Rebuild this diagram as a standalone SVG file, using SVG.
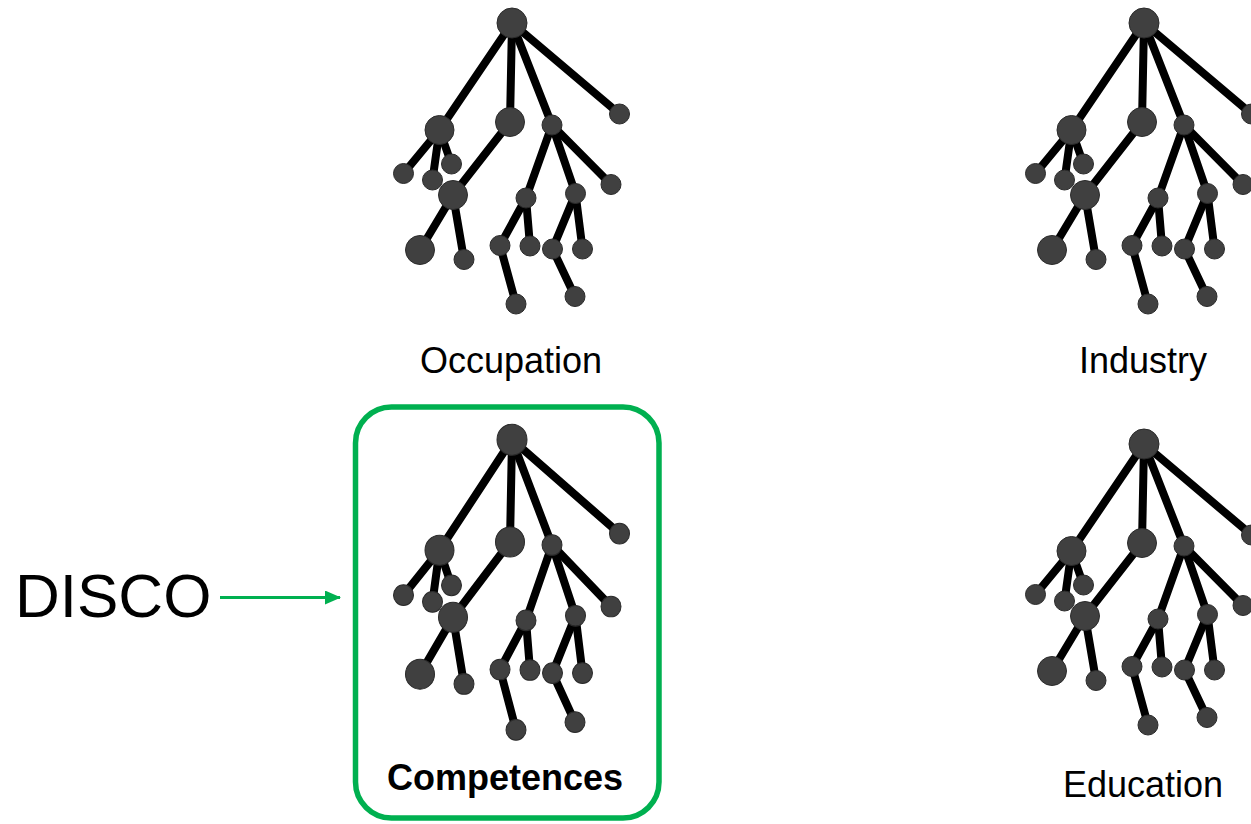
<svg xmlns="http://www.w3.org/2000/svg" xmlns:xlink="http://www.w3.org/1999/xlink" width="1251" height="824" viewBox="0 0 1251 824">
<style>
.e{stroke:#000;stroke-width:8;stroke-linecap:round;fill:none}
.n{fill:#404040;stroke:#2b2b2b;stroke-width:1}
.lbl{font-family:"Liberation Sans",Arial,sans-serif;font-size:36px;fill:#000;text-anchor:middle}
.bold{font-weight:bold}
.conn{stroke:#00b050;stroke-width:3;fill:none}
</style>
<defs>
<marker id="ah" viewBox="0 0 16 14" refX="15" refY="7" markerWidth="16" markerHeight="14" markerUnits="userSpaceOnUse" orient="auto">
<path d="M0,0 L16,7 L0,14 z" fill="#00b050"/>
</marker>
<g id="tree">
<g class="e">
<line x1="512" y1="23" x2="439.5" y2="130"/>
<line x1="512" y1="23" x2="510" y2="122"/>
<line x1="512" y1="23" x2="552" y2="125"/>
<line x1="512" y1="23" x2="619.5" y2="114"/>
<line x1="439.5" y1="130" x2="403.5" y2="173.5"/>
<line x1="439.5" y1="130" x2="432.5" y2="180"/>
<line x1="439.5" y1="130" x2="451.5" y2="164"/>
<line x1="510" y1="122" x2="453" y2="195"/>
<line x1="453" y1="195" x2="420" y2="250"/>
<line x1="453" y1="195" x2="464" y2="259.5"/>
<line x1="552" y1="125" x2="526" y2="198"/>
<line x1="552" y1="125" x2="575.5" y2="193.5"/>
<line x1="552" y1="125" x2="611" y2="184.5"/>
<line x1="526" y1="198" x2="500" y2="245.5"/>
<line x1="526" y1="198" x2="530" y2="246"/>
<line x1="500" y1="245.5" x2="516" y2="304"/>
<line x1="575.5" y1="193.5" x2="552.5" y2="249"/>
<line x1="575.5" y1="193.5" x2="582.5" y2="249"/>
<line x1="552.5" y1="249" x2="575" y2="296.5"/>
</g>
<g class="n">
<circle cx="512" cy="23" r="15"/>
<circle cx="439.5" cy="130" r="14.5"/>
<circle cx="510" cy="122" r="14.5"/>
<circle cx="552" cy="125" r="10"/>
<circle cx="619.5" cy="114" r="10"/>
<circle cx="403.5" cy="173.5" r="10"/>
<circle cx="432.5" cy="180" r="10"/>
<circle cx="451.5" cy="164" r="10"/>
<circle cx="453" cy="195" r="14.5"/>
<circle cx="420" cy="250" r="14.5"/>
<circle cx="464" cy="259.5" r="10"/>
<circle cx="526" cy="198" r="10"/>
<circle cx="575.5" cy="193.5" r="10"/>
<circle cx="611" cy="184.5" r="10"/>
<circle cx="500" cy="245.5" r="10"/>
<circle cx="530" cy="246" r="10"/>
<circle cx="516" cy="304" r="10"/>
<circle cx="552.5" cy="249" r="10"/>
<circle cx="582.5" cy="249" r="10"/>
<circle cx="575" cy="296.5" r="10"/>
</g>
</g>
</defs>
<rect width="1251" height="824" fill="#fff"/>
<g id="occupation">
<use xlink:href="#tree" href="#tree"/>
<text class="lbl" x="511" y="373">Occupation</text>
</g>
<g id="industry">
<use xlink:href="#tree" href="#tree" transform="translate(632,0)"/>
<text class="lbl" x="1143" y="373">Industry</text>
</g>
<g id="competences">
<rect x="355.5" y="407" width="303.5" height="411" rx="36" ry="36" fill="none" stroke="#00b050" stroke-width="5.5"/>
<use xlink:href="#tree" href="#tree" transform="matrix(1,0,0,1.033,0,415.9)"/>
<text class="lbl bold" x="505" y="790">Competences</text>
</g>
<g id="education">
<use xlink:href="#tree" href="#tree" transform="translate(632,421)"/>
<text class="lbl" x="1143" y="797">Education</text>
</g>
<g id="disco">
<text x="15" y="617" font-family="'Liberation Sans',Arial,sans-serif" font-size="62" fill="#000">DISCO</text>
</g>
<g id="connectors">
<line class="conn" x1="220" y1="597.5" x2="340" y2="597.5" marker-end="url(#ah)"/>
</g>
</svg>
